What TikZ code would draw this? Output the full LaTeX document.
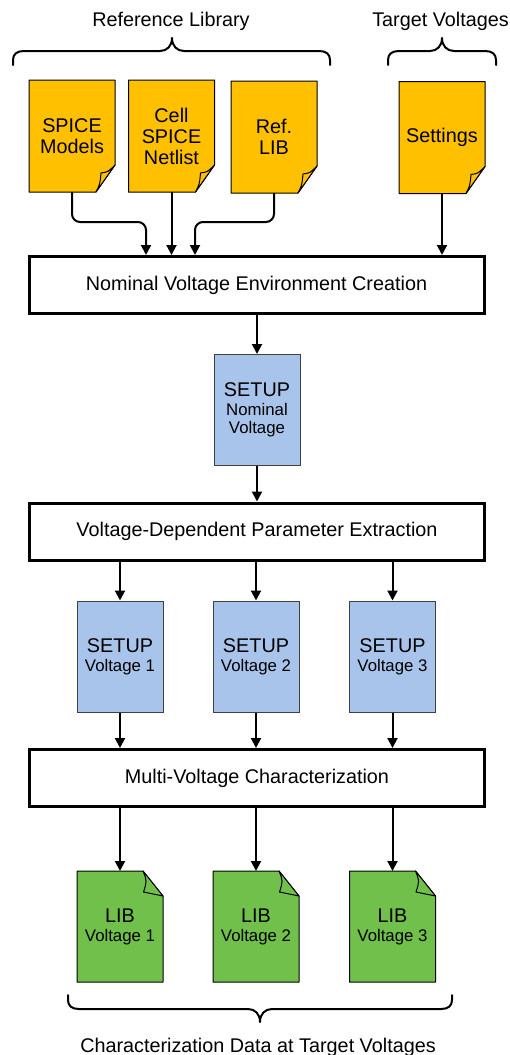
\documentclass[tikz,border=0pt]{standalone}
\usepackage{fontspec}
\setmainfont{Liberation Sans}
\usetikzlibrary{calc,arrows.meta,backgrounds}
\definecolor{docyellow}{HTML}{FFC000}
\definecolor{setupblue}{HTML}{A9C4EB}
\definecolor{libgreen}{HTML}{71C04B}
\definecolor{boxgray}{HTML}{404040}
\newcommand\bigf{\fontsize{19.8}{21}\selectfont}
\newcommand\smallf{\fontsize{16.8}{18}\selectfont}
\newcommand\drawtopdoc[1]{%
  \begin{pgfonlayer}{background}
  \filldraw[docyellow, draw=black, line width=1pt, line join=round]
    (#1.north west) -- (#1.north east) -- ($(#1.south east)+(0,-27)$)
    -- ($(#1.south east)+(-19,0)$) -- (#1.south west) -- cycle;
  \filldraw[docyellow, draw=black, line width=1pt, line join=round]
    ($(#1.south east)+(-19,0)$) .. controls ($(#1.south east)+(-15,-8)$) .. ($(#1.south east)+(-14,-19)$)
    .. controls ($(#1.south east)+(-7,-20)$) .. ($(#1.south east)+(0,-27)$) -- cycle;
  \end{pgfonlayer}}
\newcommand\drawlibdoc[1]{%
  \begin{pgfonlayer}{background}
  \filldraw[libgreen, draw=black, line width=1pt, line join=round]
    (#1.north west) -- ($(#1.north east)+(-20,0)$) -- ($(#1.north east)+(0,25)$)
    -- (#1.south east) -- (#1.south west) -- cycle;
  \filldraw[libgreen, draw=black, line width=1pt, line join=round]
    ($(#1.north east)+(-20,0)$) .. controls ($(#1.north east)+(-16,10)$) .. ($(#1.north east)+(-19.5,21)$)
    -- ($(#1.north east)+(0,25)$) -- cycle;
  \end{pgfonlayer}}
\begin{document}
\begin{tikzpicture}[x=1pt,y=-1pt,
  docnode/.style={minimum width=86pt,minimum height=112pt,inner sep=0pt,outer sep=0pt,align=center,font=\bigf},
  setupbox/.style={draw=boxgray,fill=setupblue,line width=1pt,minimum width=86pt,minimum height=111pt,inner sep=0pt,align=center,font=\bigf},
  stagebox/.style={draw=black,line width=3pt,minimum width=455pt,minimum height=57pt,inner sep=0pt,font=\bigf},
  conn/.style={line width=2pt,-{Triangle[width=10pt,length=10pt]}},
  bracestyle/.style={line width=2pt,line cap=round,line join=round},
  label/.style={font=\bigf,anchor=base,inner sep=0pt}]
\useasboundingbox (0,0) rectangle (510,1055);

% labels and braces
\node[label] (reflib) at (171,26) {Reference Library};
\node[label] (target) at (440.5,26) {Target Voltages};
\draw[bracestyle] (13,65) -- (13,60) .. controls (13,54) and (17,51) .. (24,51) -- (160,51)
  .. controls (167,51) and (172,46) .. (172,38) .. controls (172,46) and (177,51) .. (184,51)
  -- (319,51) .. controls (326,51) and (330,54) .. (330,60) -- (330,65);
\draw[bracestyle] (388,65) -- (388,60) .. controls (388,54) and (392,51) .. (399,51) -- (430,51)
  .. controls (437,51) and (442,46) .. (442,38) .. controls (442,46) and (447,51) .. (454,51)
  -- (485,51) .. controls (492,51) and (496,54) .. (496,60) -- (496,65);

% input documents
\node[docnode] (spice) at (72,136) {SPICE\\Models};
\node[docnode] (netlist) at (171.5,136) {Cell\\SPICE\\Netlist};
\node[docnode] (reflibdoc) at (274,137) {Ref.\\LIB};
\node[docnode] (settings) at (442,137.5) {Settings};
\drawtopdoc{spice}
\drawtopdoc{netlist}
\drawtopdoc{reflibdoc}
\drawtopdoc{settings}

% stage 1
\node[stagebox] (nvec) at (256.5,285) {Nominal Voltage Environment Creation};
\coordinate (hy) at (0,222);
\coordinate (x1) at (146,0);
\coordinate (x3) at (195,0);
\draw[conn,rounded corners=8pt] (spice.south) -- (spice.south |- hy) -- (x1 |- hy) -- (x1 |- nvec.north);
\draw[conn] (netlist.south) -- (netlist.south |- nvec.north);
\draw[conn,rounded corners=8pt] (reflibdoc.south) -- (reflibdoc.south |- hy) -- (x3 |- hy) -- (x3 |- nvec.north);
\draw[conn] (settings.south) -- (settings.south |- nvec.north);

% nominal setup
\node[setupbox] (setupnom) at (257,410) {SETUP\\[-2pt]{\smallf Nominal}\\[-3pt]{\smallf Voltage}};
\draw[conn] (setupnom.north |- nvec.south) -- (setupnom.north);

% stage 2
\node[stagebox] (vdpe) at (257,531.5) {Voltage-Dependent Parameter Extraction};
\draw[conn] (setupnom.south) -- (setupnom.south |- vdpe.north);

% setups
\node[setupbox] (setup1) at (120,656.5) {SETUP\\[-2pt]{\smallf Voltage 1}};
\node[setupbox] (setup2) at (256,656.5) {SETUP\\[-2pt]{\smallf Voltage 2}};
\node[setupbox] (setup3) at (392.5,656.5) {SETUP\\[-2pt]{\smallf Voltage 3}};
\foreach \s in {setup1,setup2,setup3}{
  \draw[conn] (\s.north |- vdpe.south) -- (\s.north);
}

% stage 3
\node[stagebox] (mvc) at (257,778) {Multi-Voltage Characterization};
\foreach \s in {setup1,setup2,setup3}{
  \draw[conn] (\s.south) -- (\s.south |- mvc.north);
}

% output libs
\node[docnode,minimum height=111pt] (lib1) at (120,926.5) {LIB\\[-2pt]{\smallf Voltage 1}};
\node[docnode,minimum height=111pt] (lib2) at (256,926.5) {LIB\\[-2pt]{\smallf Voltage 2}};
\node[docnode,minimum height=111pt] (lib3) at (392.5,926.5) {LIB\\[-2pt]{\smallf Voltage 3}};
\drawlibdoc{lib1}
\drawlibdoc{lib2}
\drawlibdoc{lib3}
\foreach \s in {lib1,lib2,lib3}{
  \draw[conn] (\s.north |- mvc.south) -- (\s.north);
}

% bottom brace and label
\draw[bracestyle] (68,995) -- (68,1000) .. controls (68,1006) and (72,1009) .. (79,1009) -- (248,1009)
  .. controls (255,1009) and (260,1014) .. (260,1022) .. controls (260,1014) and (265,1009) .. (272,1009)
  -- (441,1009) .. controls (448,1009) and (452,1006) .. (452,1000) -- (452,995);
\node[label] (chardata) at (258,1052) {Characterization Data at Target Voltages};
\end{tikzpicture}
\end{document}
